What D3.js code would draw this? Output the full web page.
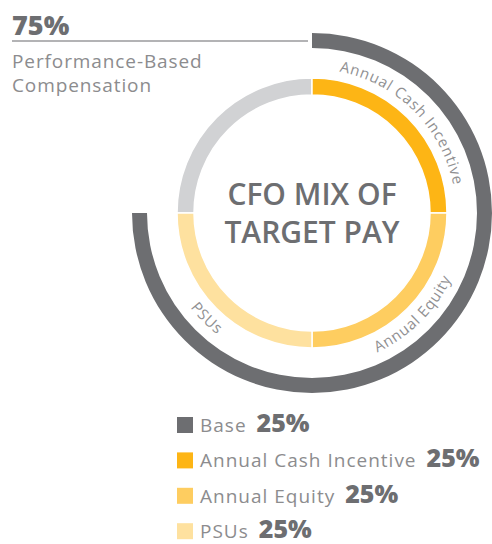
<!DOCTYPE html>
<html>
<head>
<meta charset="utf-8">
<script src="https://cdn.jsdelivr.net/npm/d3@7"></script>
<style>
  body { margin: 0; background: #fff; }
  svg { display: block; font-family: "Open Sans", Lato, sans-serif; }
</style>
</head>
<body>
<div id="chart"></div>
<script>
const categories = ['Base', 'Annual Cash Incentive', 'Annual Equity', 'PSUs'];
const shares = [25, 25, 25, 25];
const ringColors = ['#d1d2d4', '#fdb515', '#fecd60', '#fee19f'];
const legendColors = ['#6d6e71', '#fdb515', '#fecd60', '#fee19f'];
const performanceShare = 75;
const performanceLabel = ['Performance-Based', 'Compensation'];
const titleLines = ['CFO MIX OF', 'TARGET PAY'];

const w = 492, h = 544;
const cx = 312, cy = 213;

const svg = d3.select('#chart').append('svg')
  .attr('width', w)
  .attr('height', h);

const g = svg.append('g').attr('transform', `translate(${cx},${cy})`);

// inner ring: the four pay elements
const pie = d3.pie().sort(null).value(d => d)
  .startAngle(-Math.PI / 2).endAngle(Math.PI * 1.5);
const slices = pie(shares);

const ringArc = d3.arc().innerRadius(118).outerRadius(135);

g.selectAll('.slice')
  .data(slices)
  .enter().append('path')
  .attr('class', 'slice')
  .attr('d', ringArc)
  .attr('fill', (d, i) => ringColors[i])
  .attr('stroke', '#fff')
  .attr('stroke-width', 1.5);

// outer arc: share that is performance based
const angle = d3.scaleLinear().domain([0, 100]).range([0, Math.PI * 2]);
const outerArc = d3.arc().innerRadius(165).outerRadius(180);
g.append('path')
  .attr('d', outerArc({ startAngle: 0, endAngle: angle(performanceShare) }))
  .attr('fill', '#6d6e71');

// curved labels on the ring
function arcPath(r, a0, a1) {
  const x0 = r * Math.sin(a0), y0 = -r * Math.cos(a0);
  const x1 = r * Math.sin(a1), y1 = -r * Math.cos(a1);
  const sweep = a1 > a0 ? 1 : 0;
  return `M${x0},${y0} A${r},${r} 0 0 ${sweep} ${x1},${y1}`;
}

const defs = svg.append('defs');
slices.forEach((d, i) => {
  if (i === 0) return;
  const mid = (d.startAngle + d.endAngle) / 2;
  const top = Math.cos(mid) > 0;
  const p = top ? arcPath(144, d.startAngle, d.endAngle) : arcPath(154, d.endAngle, d.startAngle);
  defs.append('path').attr('id', 'lab' + i).attr('d', p);
  g.append('text')
    .attr('font-size', 15)
    .attr('letter-spacing', 0.8)
    .attr('fill', '#909092')
    .append('textPath')
    .attr('href', '#lab' + i)
    .attr('startOffset', '50%')
    .attr('text-anchor', 'middle')
    .text(categories[i]);
});

// title in the middle
g.selectAll('.title')
  .data(titleLines)
  .enter().append('text')
  .attr('class', 'title')
  .attr('x', 0)
  .attr('y', (d, i) => -8 + i * 38)
  .attr('text-anchor', 'middle')
  .attr('font-size', 30)
  .attr('font-weight', 600)
  .attr('fill', '#6d6e71')
  .text(d => d);

// top-left callout
svg.append('text')
  .attr('x', 12).attr('y', 35)
  .attr('font-size', 27)
  .attr('font-weight', 800)
  .attr('fill', '#6d6e71')
  .text(performanceShare + '%');

svg.append('line')
  .attr('x1', 12).attr('x2', 308)
  .attr('y1', 41).attr('y2', 41)
  .attr('stroke', '#9a9a9c')
  .attr('stroke-width', 1.5);

svg.selectAll('.perf')
  .data(performanceLabel)
  .enter().append('text')
  .attr('class', 'perf')
  .attr('x', 12)
  .attr('y', (d, i) => 68 + i * 24)
  .attr('font-size', 19)
  .attr('letter-spacing', 0.9)
  .attr('fill', '#8c8c8e')
  .text(d => d);

// legend
const legend = svg.selectAll('.legend')
  .data(categories)
  .enter().append('g')
  .attr('class', 'legend')
  .attr('transform', (d, i) => `translate(177,${425 + i * 35.4})`);

legend.append('rect')
  .attr('x', 0).attr('y', -8)
  .attr('width', 16).attr('height', 16)
  .attr('fill', (d, i) => legendColors[i]);

const lt = legend.append('text')
  .attr('x', 23).attr('y', 7)
  .attr('font-size', 19)
  .attr('letter-spacing', 1)
  .attr('fill', '#8c8c8e')
  .text(d => d);

legend.append('text')
  .attr('x', function(d, i) { return 23 + lt.nodes()[i].getComputedTextLength() + 10; })
  .attr('y', 7)
  .attr('font-size', 25)
  .attr('font-weight', 800)
  .attr('fill', '#6d6e71')
  .text((d, i) => shares[i] + '%');
</script>
</body>
</html>
